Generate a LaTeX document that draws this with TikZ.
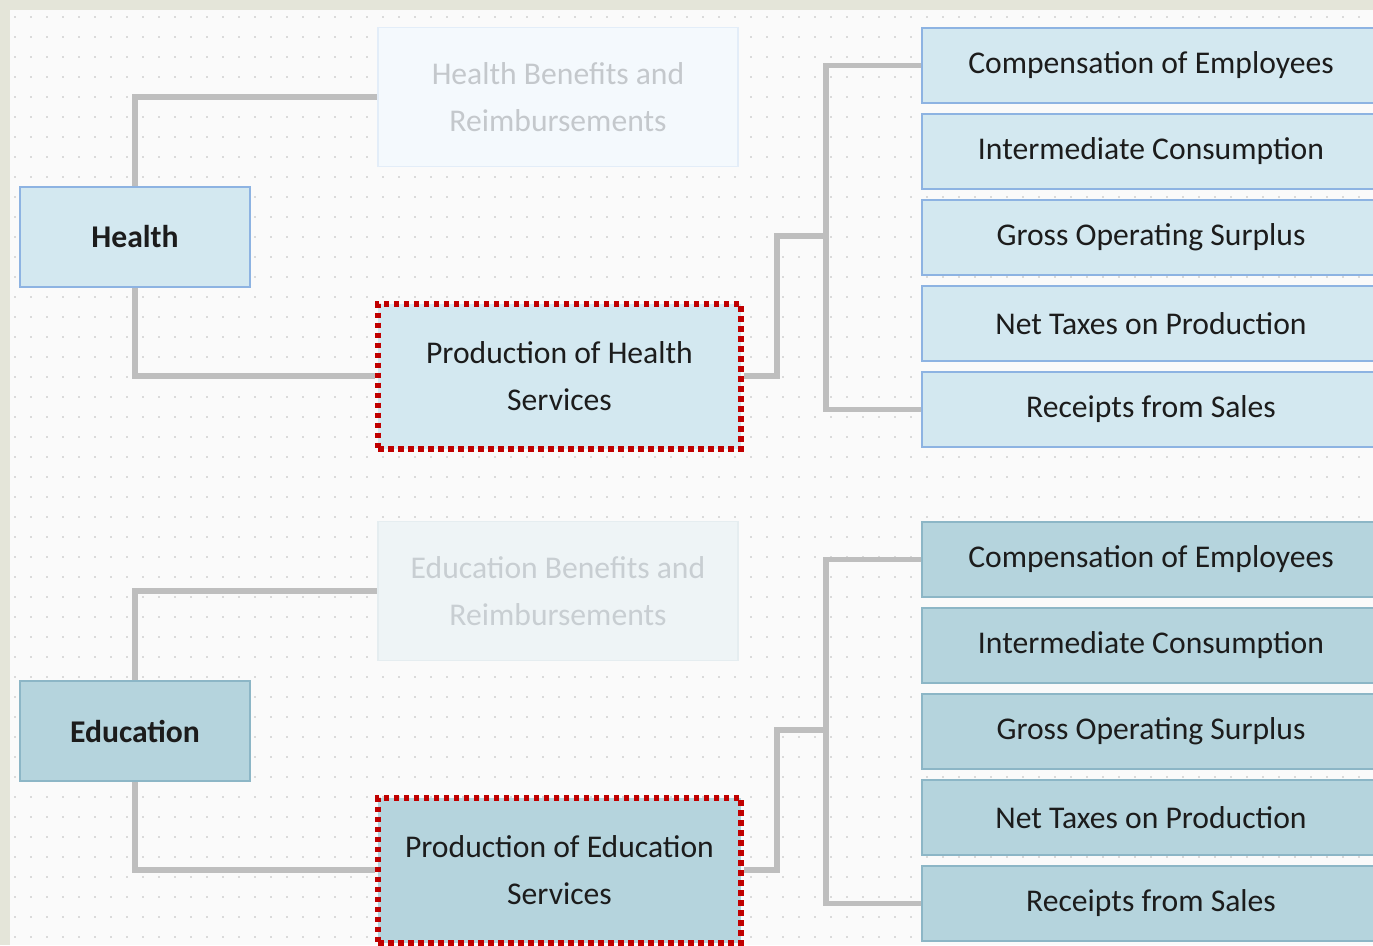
\documentclass[tikz,border=0pt]{standalone}
\usepackage{fontspec}
\setmainfont{Carlito}
\usepackage{xcolor}
\usetikzlibrary{calc}

\definecolor{framec}{HTML}{E4E5D9}
\definecolor{paper}{HTML}{FAFAFA}
\definecolor{dotc}{HTML}{DADADA}
\definecolor{linkc}{HTML}{BEBEBE}
\definecolor{txtc}{HTML}{1C1C1C}
\definecolor{redc}{HTML}{C00000}
\definecolor{hfill}{HTML}{D3E8F0}
\definecolor{hbord}{HTML}{8DB3E2}
\definecolor{hbfill}{HTML}{F4F9FD}
\definecolor{hbbord}{HTML}{E3EDF8}
\definecolor{hbtxt}{HTML}{C4C8CC}
\definecolor{efill}{HTML}{B5D4DD}
\definecolor{ebord}{HTML}{8CB6C6}
\definecolor{ebfill}{HTML}{EEF4F6}
\definecolor{ebbord}{HTML}{E5EDF0}
\definecolor{ebtxt}{HTML}{C8CED2}

\begin{document}
\begin{tikzpicture}[x=0.2mm, y=-0.2mm,
  txtfont/.style={font=\fontsize{18}{26.5}\selectfont},
  link/.style={draw=linkc, line width=1.05mm},
  sector/.style={draw, line width=0.3mm, minimum width=46mm, minimum height=20mm,
    font=\fontsize{18}{26.5}\selectfont\bfseries, text=txtc},
  benefit/.style={draw, line width=0.3mm, minimum width=72mm, minimum height=27.8mm,
    align=center, txtfont},
  prodbox/.style={draw=redc, line width=1.2mm, dash pattern=on 1.1mm off 0.9mm,
    minimum width=72.6mm, minimum height=29mm, align=center, txtfont, text=txtc},
  item/.style={draw, line width=0.3mm, minimum width=91.6mm, minimum height=15mm,
    txtfont, text=txtc}]
\clip (0,0) rectangle (1373,945);
%frame and dotted paper
\fill[framec] (0,0) rectangle (1373,945);
\fill[paper] (10,10) rectangle (1373,945);
\foreach \x in {14,30,...,1373}
  \foreach \y in {16,36,...,945}
    \fill[dotc] (\x,\y) rectangle +(1.5,1.5);

%Health and Education trees
\foreach \sec/\dy/\fillc/\bordc/\benfill/\benbord/\bentxt in
  {Health/0/hfill/hbord/hbfill/hbbord/hbtxt,
   Education/494/efill/ebord/ebfill/ebbord/ebtxt} {
  \node[sector, fill=\fillc, draw=\bordc] (\sec) at (135, 237+\dy) {\sec};
  \node[benefit, fill=\benfill, draw=\benbord, text=\bentxt] (\sec-ben) at (558, 97+\dy)
    {\sec{} Benefits and\\Reimbursements};
  \node[prodbox, fill=\fillc] (\sec-prod) at (559.5, 376+\dy)
    {Production of \sec\\Services};
  \foreach \item [count=\i] in {Compensation of Employees, Intermediate Consumption,
      Gross Operating Surplus, Net Taxes on Production, Receipts from Sales}
    \node[item, fill=\fillc, draw=\bordc] (\sec-\i) at (1151, 65.5+86*\i-86+\dy) {\item};
  \coordinate (\sec-join) at (826, 236+\dy);

  \draw[link] (\sec.north) |- (\sec-ben.west);
  \draw[link] (\sec.south) |- (\sec-prod.west);
  \draw[link] (\sec-prod.east) -- ++(33,0) |- (\sec-join);
  \draw[link] (\sec-1.west) -| (\sec-join) |- (\sec-5.west);
}
\end{tikzpicture}
\end{document}
